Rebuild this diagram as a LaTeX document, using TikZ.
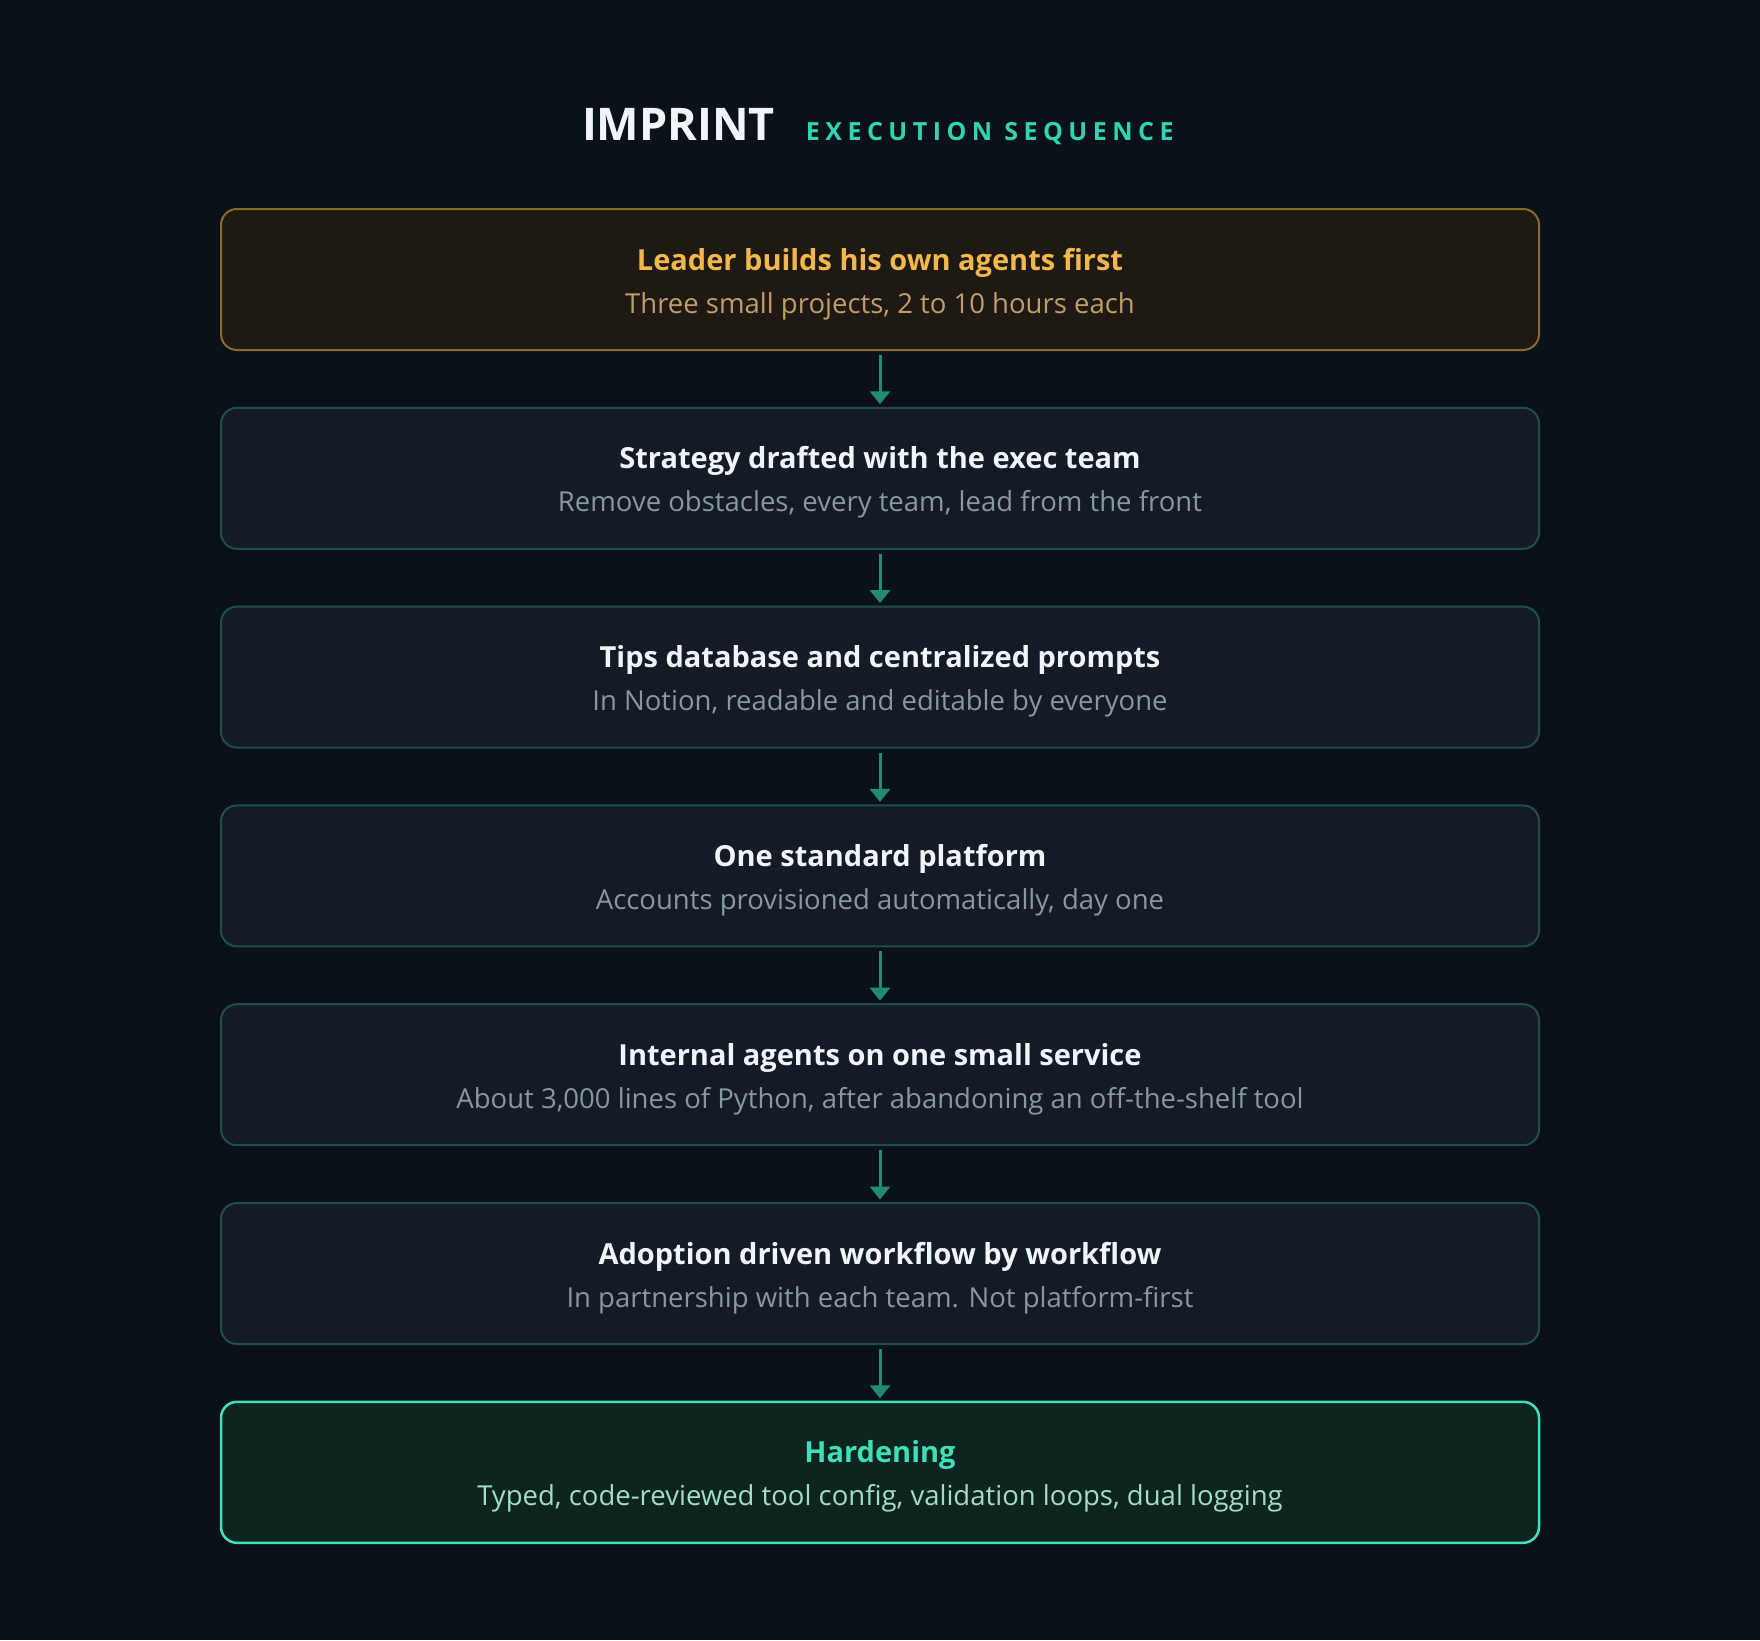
\documentclass[tikz,border=0pt]{standalone}
\usepackage{fontspec}
\setmainfont{Open Sans}
\newfontfamily\trackfont[LetterSpace=22]{Open Sans}
\tikzset{
every picture/.style={
line width=2pt
}}
\usetikzlibrary{positioning,arrows.meta}

\definecolor{bgdark}{HTML}{0B1118}
\definecolor{boxfill}{HTML}{131B25}
\definecolor{boxline}{HTML}{1F4F4A}
\definecolor{goldfill}{HTML}{1E1913}
\definecolor{goldline}{HTML}{8B6A2E}
\definecolor{goldhead}{HTML}{F2B84B}
\definecolor{goldsub}{HTML}{C29C6A}
\definecolor{mintfill}{HTML}{0E251F}
\definecolor{mintline}{HTML}{3DE3B7}
\definecolor{minthead}{HTML}{3DE0B8}
\definecolor{mintsub}{HTML}{A2DCCB}
\definecolor{headwhite}{HTML}{F1F5F9}
\definecolor{subgrey}{HTML}{8A96A3}
\definecolor{arrowteal}{HTML}{238A74}
\definecolor{kicker}{HTML}{2FD5B1}

\begin{document}
\begin{tikzpicture}[x=1pt, y=1pt,
block/.style = {rectangle, rounded corners=16pt, draw=boxline, fill=boxfill, line width=2pt, minimum width=1318pt, minimum height=141pt, inner sep=0pt, outer sep=0pt},
stephead/.style = {anchor=base, inner sep=0pt, font=\bfseries\fontsize{29}{35}\selectfont, text=headwhite},
stepsub/.style = {anchor=base, inner sep=0pt, font=\fontsize{27.5}{33}\selectfont, text=subgrey},
flow/.style = {draw=arrowteal, line width=3pt, -{Triangle[width=20pt,length=13pt]}, shorten <=5pt, shorten >=3.5pt}]
\fill[bgdark] (0,0) rectangle (1760,-1640);

\node[anchor=base west, inner sep=0pt, text=headwhite, font=\bfseries\fontsize{45}{54}\selectfont] at (581,-141) (imprint) {IMPRINT};
\node[anchor=base west, inner sep=0pt, text=kicker, font=\trackfont\bfseries\fontsize{25}{30}\selectfont] (seq) [right=29pt of imprint.base east, anchor=base west] {EXECUTION SEQUENCE};

\node[block, draw=goldline, fill=goldfill] at (880,-279.5) (leader) {};
\node[block] at (880,-478.3) (strategy) {};
\node[block] at (880,-677.1) (tips) {};
\node[block] at (880,-875.9) (platform) {};
\node[block] at (880,-1074.7) (agents) {};
\node[block] at (880,-1273.5) (adoption) {};
\node[block, draw=mintline, fill=mintfill, line width=2.5pt] at (880,-1472.3) (hardening) {};

\node[stephead, text=goldhead] at ([yshift=-61pt]leader.north) (leadert) {Leader builds his own agents first};
\node[stepsub, text=goldsub] at ([yshift=-104pt]leader.north) (leaders) {Three small projects, 2 to 10 hours each};
\node[stephead] at ([yshift=-61pt]strategy.north) (strategyt) {Strategy drafted with the exec team};
\node[stepsub] at ([yshift=-104pt]strategy.north) (strategys) {Remove obstacles, every team, lead from the front};
\node[stephead] at ([yshift=-61pt]tips.north) (tipst) {Tips database and centralized prompts};
\node[stepsub] at ([yshift=-104pt]tips.north) (tipss) {In Notion, readable and editable by everyone};
\node[stephead] at ([yshift=-61pt]platform.north) (platformt) {One standard platform};
\node[stepsub] at ([yshift=-104pt]platform.north) (platforms) {Accounts provisioned automatically, day one};
\node[stephead] at ([yshift=-61pt]agents.north) (agentst) {Internal agents on one small service};
\node[stepsub] at ([yshift=-104pt]agents.north) (agentss) {About 3,000 lines of Python, after abandoning an off-the-shelf tool};
\node[stephead] at ([yshift=-61pt]adoption.north) (adoptiont) {Adoption driven workflow by workflow};
\node[stepsub] at ([yshift=-104pt]adoption.north) (adoptions) {In partnership with each team. Not platform-first};
\node[stephead, text=minthead] at ([yshift=-61pt]hardening.north) (hardeningt) {Hardening};
\node[stepsub, text=mintsub] at ([yshift=-104pt]hardening.north) (hardenings) {Typed, code-reviewed tool config, validation loops, dual logging};

\draw[flow] (leader) -- (strategy);
\draw[flow] (strategy) -- (tips);
\draw[flow] (tips) -- (platform);
\draw[flow] (platform) -- (agents);
\draw[flow] (agents) -- (adoption);
\draw[flow] (adoption) -- (hardening);
\end{tikzpicture}
\end{document}
